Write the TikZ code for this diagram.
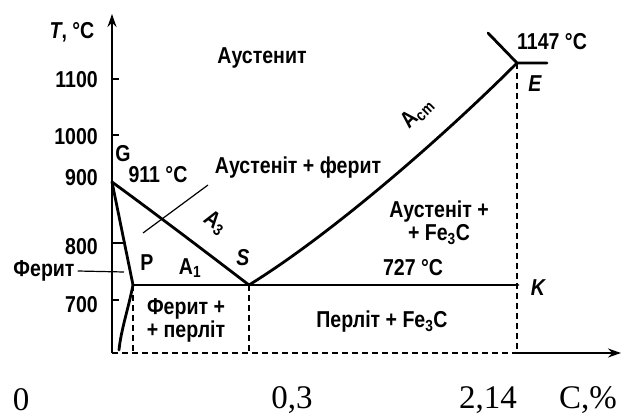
\documentclass[tikz,border=0pt]{standalone}
\usepackage{fontspec}
\setmainfont{Liberation Sans}
\newfontfamily\diagfont[FakeStretch=0.85]{Liberation Sans Bold}
\newfontfamily\diagitfont[FakeStretch=0.85]{Liberation Sans Bold Italic}
\newfontfamily\axisfont{Liberation Serif}
\usetikzlibrary{arrows.meta, positioning}

\begin{document}
\begin{tikzpicture}[
    x=1pt, y=-1pt,
    phaseline/.style={line width=2.8pt, line join=round, line cap=round},
    axisline/.style={line width=2pt, -{Stealth[length=13pt, width=9pt]}},
    guide/.style={line width=1.3pt, dash pattern=on 6pt off 4pt},
    leader/.style={line width=1.2pt},
    lbl/.style={font=\diagfont\fontsize{23}{23}\selectfont, inner sep=0pt, align=center},
    ptlbl/.style={lbl, font=\diagitfont\fontsize{23}{23}\selectfont},
    num/.style={font=\axisfont\fontsize{33}{33}\selectfont, inner sep=0pt},
]
\useasboundingbox (0,0) rectangle (626,419);

% Key points
\coordinate (O) at (112,353);
\coordinate (Ytop) at (112,14);
\coordinate (Xend) at (621,353);
\coordinate (G) at (112,182);
\coordinate (P) at (133,285);
\coordinate (Q) at (119,350);
\coordinate (S) at (249,285);
\coordinate (E) at (517,63);
\coordinate (K) at (518,285);
\coordinate (Eup) at (488,33);
\coordinate (Eright) at (547,63);
\coordinate (Pb) at (133,353);
\coordinate (Sb) at (249,353);
\coordinate (Eb) at (517,353);

% Axes
\draw[axisline] (O) -- (Ytop);
\draw[guide, line width=1.8pt] (O) -- (Eb);
\draw[axisline] (Eb) -- (Xend);
\foreach \y in {79, 135, 300}
    \draw[line width=1.5pt] (112,\y) -- ++(7,0);
\coordinate (T800) at (112,243);
\coordinate (T800r) at (124,243);
\draw[line width=1.8pt] (T800) -- (T800r);

% Tick labels
\foreach \y/\t in {80/1100, 137/1000, 178/900, 247/800, 305/700}
    \node[lbl, anchor=east] (t\t) at (98,\y) {\t};
\node[lbl] (tunit) at (72,32) {{\diagitfont T}, °C};

% Phase lines
\draw[phaseline] (G) .. controls (160,217) and (215,259) .. (S);
\draw[phaseline] (G) -- (P);
\draw[phaseline] (P) .. controls (128,310) and (121,330) .. (Q);
\draw[phaseline] (P) -- (K);
\draw[phaseline] (S) .. controls (330,235) and (440,140) .. (E);
\draw[phaseline] (Eup) -- (E) -- (Eright);

% Dashed verticals
\draw[guide] (P) -- (Pb);
\draw[guide] (S) -- (Sb);
\draw[guide] (E) -- (Eb);

% Point labels
\node[lbl] (lG) at (123,154) {G};
\node[lbl] (l911) at (158,175) {911 °C};
\node[lbl] (lP) at (147,263) {P};
\node[ptlbl] (lS) at (243,258) {S};
\node[ptlbl] (lE) at (535,84) {E};
\node[ptlbl] (lK) at (538,288) {K};
\node[lbl] (l1147) at (552,42) {1147 °C};
\node[lbl] (l727) at (413,268) {727 °C};
\node[lbl, rotate=-35] (lA3) at (215,223) {A\textsubscript{3}};
\node[lbl] (lA1) at (190,268) {A\textsubscript{1}};
\node[lbl, rotate=45] (lAcm) at (417,113) {A\textsubscript{cm}};

% Phase regions
\node[lbl] (austenite) at (262,58) {Аустенит};
\node[lbl] (austferrite) at (298,168) {Аустеніт + ферит};
\node[lbl] (austcem) at (439,223) {Аустеніт +\\+ Fe\textsubscript{3}C};
\node[lbl] (pearlcem) at (382,322) {Перліт + Fe\textsubscript{3}C};
\node[lbl] (ferrpearl) at (186,320) {Ферит +\\+ перліт};
\node[lbl] (ferrite) at (44,271) {Ферит};

% Leaders
\coordinate (fa1) at (143,233);
\coordinate (fa2) at (208,185);
\draw[leader] (fa1) -- (fa2);
\coordinate (fl2) at (124,272);
\draw[leader] (ferrite.east) ++(3,0) coordinate (fl1) -- (fl2);

% Concentration labels
\node[num] (c0) at (21,400) {0};
\node[num] (c03) at (292,400) {0,3};
\node[num] (c214) at (488,400) {2,14};
\node[num] (cunit) at (588,400) {C,\%};

\end{tikzpicture}
\end{document}
